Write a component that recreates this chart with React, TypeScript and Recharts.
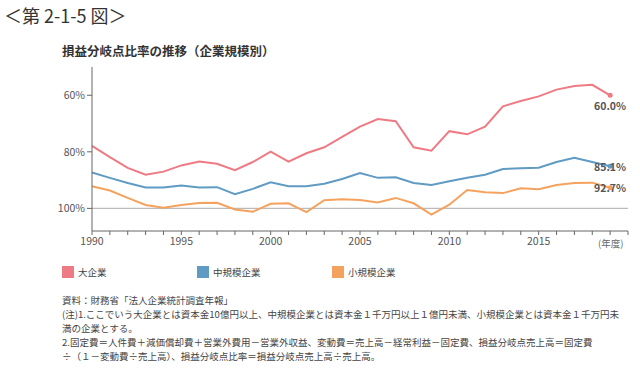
import React from 'react';
import { LineChart, Line, XAxis, YAxis, ReferenceLine } from 'recharts';

const years = [1990,1991,1992,1993,1994,1995,1996,1997,1998,1999,2000,2001,2002,2003,2004,2005,2006,2007,2008,2009,2010,2011,2012,2013,2014,2015,2016,2017,2018,2019];
const large = [77.9,81.9,85.7,88.1,87.0,84.8,83.4,84.2,86.5,83.6,79.9,83.5,80.5,78.4,74.7,71.1,68.4,69.2,78.4,79.6,72.7,73.8,71.1,63.9,62.0,60.4,58.0,56.7,56.3,60.0];
const medium = [87.3,89.2,91.0,92.6,92.6,91.9,92.6,92.5,95.0,93.1,90.8,92.2,92.2,91.3,89.6,87.5,89.2,89.0,91.0,91.7,90.4,89.2,88.1,86.1,85.8,85.6,83.6,82.1,83.6,85.1];
const small = [92.2,93.7,96.3,98.8,99.8,98.8,98.1,98.0,100.4,101.2,98.4,98.2,101.3,97.1,96.8,97.0,97.9,96.3,98.2,102.2,98.7,93.5,94.3,94.6,92.9,93.2,91.7,91.0,90.9,92.7];
const seriesNames = ['大企業', '中規模企業', '小規模企業'];
const colors = ['#EE7A84', '#5F9BC3', '#F5A25E'];
const yTicks = [60, 80, 100];
const xTickYears = [1990,1991,1992,1993,1994,1995,1996,1997,1998,1999,2000,2001,2002,2003,2004,2005,2006,2007,2008,2009,2010,2011,2012,2013,2014,2015,2016,2017,2018,2019,2020];
const majorYears = [1990, 1995, 2000, 2005, 2010, 2015];
const notes = [
  '資料：財務省「法人企業統計調査年報」',
  '(注)1.ここでいう大企業とは資本金10億円以上、中規模企業とは資本金１千万円以上１億円未満、小規模企業とは資本金１千万円未',
  '満の企業とする。',
  '2.固定費＝人件費＋減価償却費＋営業外費用－営業外収益、変動費＝売上高－経常利益－固定費、損益分岐点売上高＝固定費',
  '÷（１－変動費÷売上高）、損益分岐点比率＝損益分岐点売上高÷売上高。',
];

const data = years.map((y, i) => ({ year: y, large: large[i], medium: medium[i], small: small[i] }));
const last = years.length - 1;
const font = '"Noto Sans CJK JP", "Noto Sans", sans-serif';

const makeDot = (color: string) => (props: any) => {
  if (props.index !== last) return <g key={props.index} />;
  return <circle key={props.index} cx={props.cx} cy={props.cy} r={2.5} fill={color} />;
};

const makeLabel = (dy: number) => (props: any) => {
  if (props.index !== last) return null;
  return (
    <text x={props.x} y={props.y + dy} textAnchor="middle" dominantBaseline="central"
      fontSize={10.5} fontWeight="bold" fill="#555" fontFamily={font}>
      {props.value.toFixed(1)}%
    </text>
  );
};

export default function App() {
  return (
    <div style={{ position: 'absolute', left: 0, top: 0, width: 640, height: 369, background: '#fff', fontFamily: font, overflow: 'hidden' }}>
      <div style={{ position: 'absolute', left: 4, top: 2, fontSize: 18, color: '#333', whiteSpace: 'nowrap' }}>＜第 2-1-5 図＞</div>
      <div style={{ position: 'absolute', left: 62, top: 41, fontSize: 12.5, fontWeight: 'bold', color: '#333', whiteSpace: 'nowrap' }}>損益分岐点比率の推移（企業規模別）</div>
      <div style={{ position: 'absolute', left: 0, top: 0 }}>
        <LineChart width={640} height={369} data={data} margin={{ top: 67, right: 12, left: 52, bottom: 108 }}>
          <XAxis dataKey="year" type="number" domain={[1990, 2020]} ticks={xTickYears} interval={0}
            tickFormatter={(v: number) => (majorYears.includes(v) ? String(v) : '')}
            stroke="#666" tickSize={4} tickMargin={3} height={30}
            tick={{ fontSize: 10.5, fill: '#555', fontFamily: font }} />
          <YAxis type="number" domain={[50, 108]} reversed ticks={yTicks} interval={0} width={40}
            tickFormatter={(v: number) => `${v}%`} stroke="#666" tickSize={5} tickMargin={2}
            tick={{ fontSize: 10.5, fill: '#555', fontFamily: font }} />
          <ReferenceLine y={100} stroke="#bbb" strokeWidth={1.2} />
          <Line dataKey="large" stroke={colors[0]} strokeWidth={2} isAnimationActive={false} dot={makeDot(colors[0])} label={makeLabel(10)} />
          <Line dataKey="medium" stroke={colors[1]} strokeWidth={2} isAnimationActive={false} dot={makeDot(colors[1])} label={makeLabel(0)} />
          <Line dataKey="small" stroke={colors[2]} strokeWidth={2} isAnimationActive={false} dot={makeDot(colors[2])} label={makeLabel(0)} />
        </LineChart>
      </div>
      <div style={{ position: 'absolute', left: 598, top: 236, fontSize: 9.5, color: '#666', whiteSpace: 'nowrap' }}>(年度)</div>
      {seriesNames.map((n, i) => (
        <div key={n} style={{ position: 'absolute', left: 62 + i * 135, top: 265, display: 'flex', alignItems: 'center', whiteSpace: 'nowrap' }}>
          <div style={{ width: 12, height: 12, background: colors[i], marginRight: 4 }} />
          <span style={{ fontSize: 9.5, color: '#444' }}>{n}</span>
        </div>
      ))}
      <div style={{ position: 'absolute', left: 62, top: 293, fontSize: 9.5, lineHeight: '14px', color: '#444', whiteSpace: 'nowrap' }}>
        {notes.map((t, i) => <div key={i}>{t}</div>)}
      </div>
    </div>
  );
}
